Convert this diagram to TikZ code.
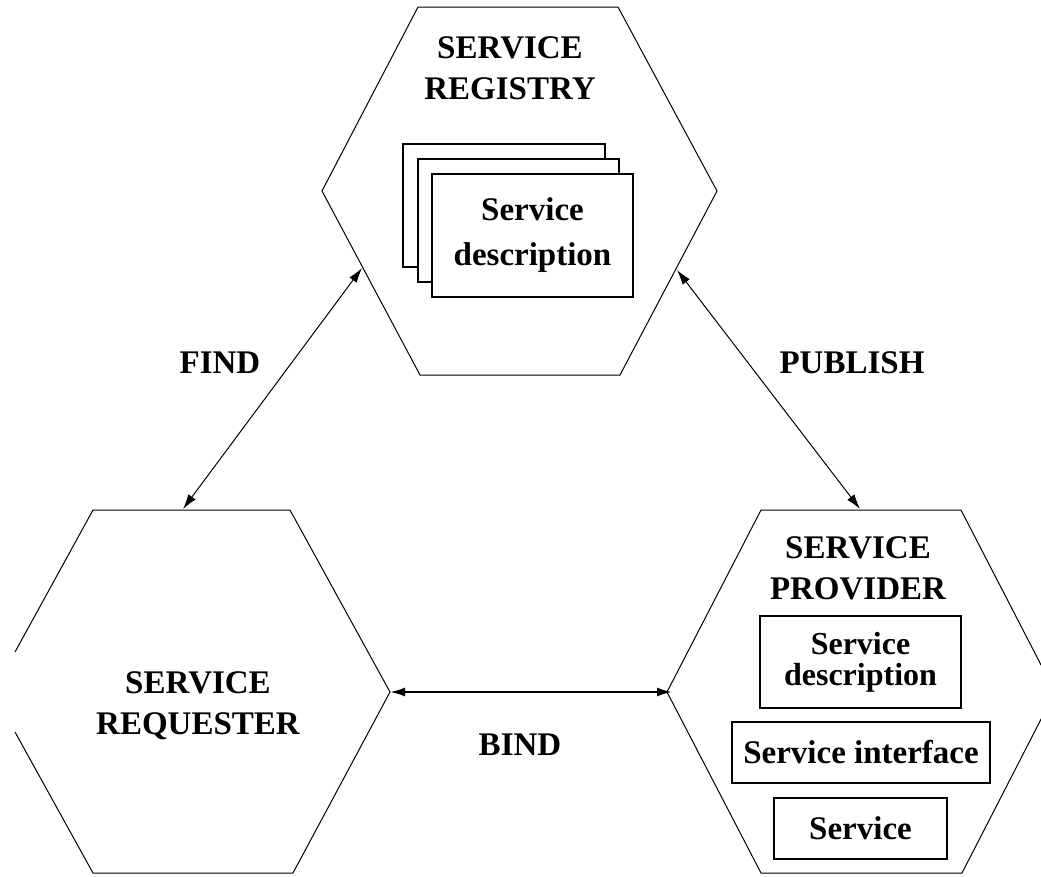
\documentclass[tikz,border=0pt]{standalone}
\usepackage{fontspec}
\setmainfont{Liberation Serif}
\usetikzlibrary{arrows.meta}
\begin{document}
\begin{tikzpicture}[x=1pt,y=-1pt,
  hex/.style={draw, line width=1pt, line join=miter},
  box/.style={draw, fill=white, line width=1.6pt, inner sep=0pt},
  lbl/.style={font=\fontsize{33}{41}\selectfont\bfseries, align=center, inner sep=0pt},
  conn/.style={line width=1pt, {Latex[length=15pt,width=9pt]}-{Latex[length=15pt,width=9pt]}}
]
\useasboundingbox (0,0) rectangle (1041,876);

% hexagons
\draw[hex] (418,7) -- (618,7) -- (717,191) -- (620,375) -- (420,375) -- (322,191) -- cycle;
\draw[hex] (15,652) -- (93,510) -- (290,510) -- (390,692) -- (293,873) -- (93,873) -- (15,732);
\begin{scope}
\clip (0,0) rectangle (1041,876);
\draw[hex] (761,510) -- (961,510) -- (1055,692) -- (962,873) -- (761,873) -- (667,692) -- cycle;
\end{scope}

% titles
\node[lbl] (reg) at (510,68) {SERVICE\\REGISTRY};
\node[lbl] (req) at (198,706) {SERVICE\\REQUESTER};
\node[lbl] (prov) at (858,568) {SERVICE\\PROVIDER};

% registry stacked boxes
\node[box, minimum width=202pt, minimum height=123pt] (sd3) at (504,205.5) {};
\node[box, minimum width=201pt, minimum height=123pt] (sd2) at (518.5,220.5) {};
\node[box, minimum width=201pt, minimum height=123pt, font=\fontsize{33}{45}\selectfont\bfseries, align=center] (sd1) at (532.5,235.5) {Service\\description};

% provider boxes
\node[box, minimum width=201pt, minimum height=92pt, font=\fontsize{32}{31}\selectfont\bfseries, align=center] (pd) at (860.5,662) {Service\\description};
\node[box, minimum width=258pt, minimum height=61pt, font=\fontsize{33}{40}\selectfont\bfseries] (pi) at (861,752.5) {Service interface};
\node[box, minimum width=173pt, minimum height=61pt, font=\fontsize{33}{40}\selectfont\bfseries] (ps) at (860.5,828.5) {Service};

% connector end points
\coordinate (regL) at (362,268);
\coordinate (regR) at (677,270);
\coordinate (reqT) at (183,509);
\coordinate (provT) at (860,509);
\coordinate (reqR) at (390,692);
\coordinate (provL) at (672,692);

\draw[conn] (regL) -- (reqT);
\draw[conn] (regR) -- (provT);
\draw[conn, line width=2pt] (reqR) -- (provL);

% labels
\node[lbl] (find) at (220,363) {FIND};
\node[lbl] (pub) at (852,363) {PUBLISH};
\node[lbl] (bind) at (520,745) {BIND};
\end{tikzpicture}
\end{document}
